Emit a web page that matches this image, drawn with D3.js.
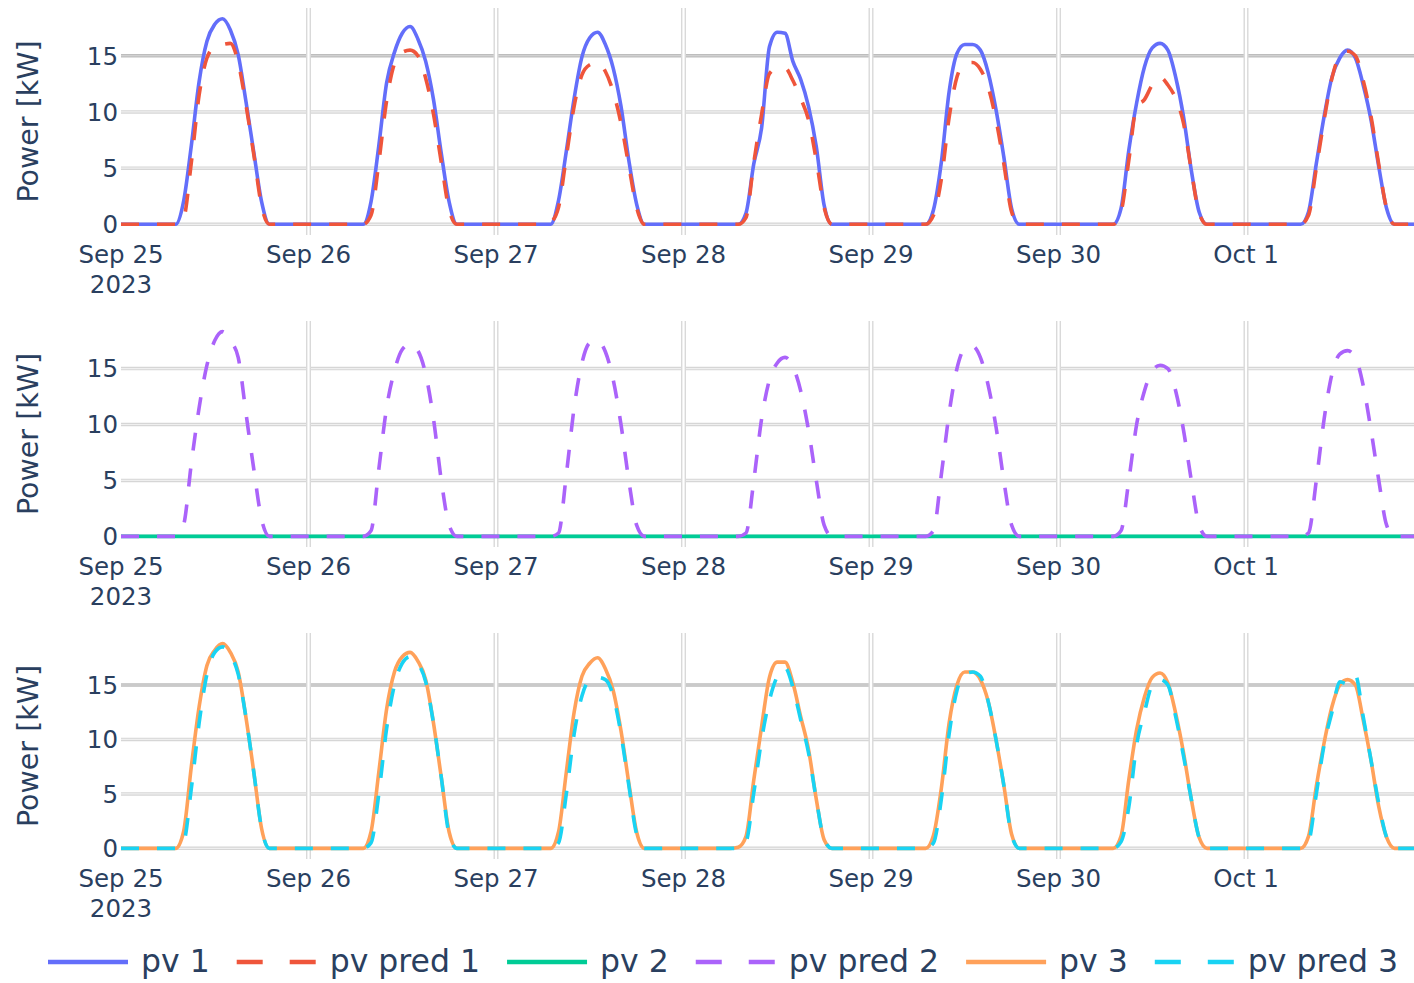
<!DOCTYPE html>
<html>
<head>
<meta charset="utf-8">
<script src="https://cdn.jsdelivr.net/npm/d3@7"></script>
<style>
  body { margin: 0; background: #fff; }
  svg { display: block; }
  text { font-family: "DejaVu Sans", Verdana, sans-serif; fill: #2a3f5f; }
</style>
</head>
<body>
<svg id="chart"></svg>
<script>
// days shown and the daylight hours that carry a value (other hours are 0)
const days = ["2023-09-25", "2023-09-26", "2023-09-27", "2023-09-28", "2023-09-29", "2023-09-30", "2023-10-01"]
const sunHours = [7, 8, 9, 10, 11, 12, 13, 14, 15, 16, 17, 18, 19]
const yTicks = [0, 5, 10, 15]

// kW per day, one value per sun hour
const pv1 = [
  [0, 2.0, 7.0, 12.7, 16.3, 17.8, 18.3, 17.3, 15.1, 10.9, 6.4, 2.0, 0],
  [0, 2.0, 7.0, 12.6, 15.3, 17.0, 17.6, 16.5, 14.5, 11.1, 6.3, 2.0, 0],
  [0, 2.1, 6.5, 11.2, 14.9, 16.6, 17.1, 16.0, 13.9, 10.5, 5.7, 1.8, 0],
  [0, 1.0, 5.4, 8.6, 15.8, 17.1, 17.0, 14.5, 12.9, 10.5, 6.9, 1.7, 0],
  [0, 1.3, 5.5, 11.8, 15.2, 16.0, 16.0, 15.5, 13.5, 10.2, 6.0, 1.4, 0],
  [0, 1.4, 6.6, 10.8, 14.0, 15.7, 16.1, 15.5, 13.1, 9.6, 4.8, 1.1, 0],
  [0, 1.1, 5.4, 9.6, 13.1, 14.8, 15.5, 14.8, 12.4, 9.3, 5.1, 1.4, 0]
]
const pvPred1 = [
  [0, 0.5, 5.5, 11.5, 14.8, 15.8, 16.0, 16.1, 14.4, 10.6, 6.2, 1.6, 0],
  [0, 0.8, 5.5, 11.0, 14.3, 15.3, 15.5, 15.0, 13.0, 9.8, 5.5, 1.3, 0],
  [0.2, 1.5, 6.0, 10.5, 13.3, 14.2, 14.4, 13.6, 11.8, 9.0, 5.2, 1.5, 0],
  [0, 0.6, 5.5, 9.8, 13.4, 13.9, 13.9, 12.8, 11.2, 9.3, 5.7, 1.5, 0],
  [0, 0.8, 4.0, 9.5, 13.1, 14.3, 14.4, 13.8, 12.2, 9.3, 5.4, 1.1, 0],
  [0, 1.1, 5.7, 10.5, 11.1, 12.4, 13.1, 12.4, 11.2, 9.0, 4.8, 1.0, 0],
  [0, 0.8, 5.0, 9.3, 13.0, 15.0, 15.4, 15.0, 12.8, 9.6, 5.3, 1.4, 0]
]
const pv2 = [
  [0, 0, 0, 0, 0, 0, 0, 0, 0, 0, 0, 0, 0],
  [0, 0, 0, 0, 0, 0, 0, 0, 0, 0, 0, 0, 0],
  [0, 0, 0, 0, 0, 0, 0, 0, 0, 0, 0, 0, 0],
  [0, 0, 0, 0, 0, 0, 0, 0, 0, 0, 0, 0, 0],
  [0, 0, 0, 0, 0, 0, 0, 0, 0, 0, 0, 0, 0],
  [0, 0, 0, 0, 0, 0, 0, 0, 0, 0, 0, 0, 0],
  [0, 0, 0, 0, 0, 0, 0, 0, 0, 0, 0, 0, 0]
]
const pvPred2 = [
  [0, 1.0, 6.5, 11.5, 15.3, 17.5, 18.3, 17.5, 16.0, 11.0, 6.0, 1.5, 0],
  [0, 0.5, 6.0, 11.5, 14.8, 16.7, 17.2, 16.6, 14.5, 10.5, 5.0, 1.0, 0],
  [0, 0.3, 5.5, 11.5, 15.5, 17.3, 17.5, 16.5, 14.0, 10.0, 5.0, 1.0, 0],
  [0, 0.3, 5.0, 10.5, 14.0, 15.5, 16.0, 15.2, 13.0, 9.5, 5.0, 1.0, 0],
  [0, 0.5, 5.5, 11.0, 15.0, 16.8, 17.0, 16.0, 13.5, 9.8, 5.0, 1.0, 0],
  [0, 0.5, 5.0, 10.0, 13.0, 14.8, 15.3, 15.0, 13.0, 9.5, 5.0, 1.0, 0],
  [0, 0.3, 5.0, 10.5, 14.5, 16.3, 16.6, 16.0, 13.5, 9.5, 5.0, 1.0, 0]
]
const pv3 = [
  [0, 1.5, 7.5, 13.0, 16.8, 18.2, 18.8, 18.0, 16.2, 12.0, 7.0, 1.8, 0],
  [0, 1.5, 7.0, 12.8, 16.2, 17.6, 18.0, 17.2, 15.5, 11.5, 6.5, 1.5, 0],
  [0, 1.5, 7.0, 12.5, 15.8, 17.0, 17.5, 16.5, 14.5, 10.8, 6.0, 1.5, 0],
  [0.1, 1.1, 6.3, 11.2, 15.7, 17.1, 17.1, 15.2, 12.1, 9.1, 4.5, 0.8, 0],
  [0, 1.2, 5.5, 11.5, 15.0, 16.2, 16.2, 15.5, 13.5, 10.0, 5.8, 1.3, 0],
  [0, 1.1, 6.3, 10.9, 13.9, 15.7, 16.1, 15.2, 12.4, 8.8, 4.5, 1.0, 0],
  [0, 1.1, 5.7, 9.7, 13.0, 15.0, 15.5, 15.0, 11.8, 8.1, 3.8, 1.0, 0]
]
const pvPred3 = [
  [0, 0.5, 5.5, 11.5, 16.0, 18.0, 18.5, 17.8, 16.0, 12.0, 7.0, 1.8, 0],
  [0, 0.5, 5.0, 11.0, 15.0, 17.0, 17.6, 17.0, 15.3, 11.5, 6.5, 1.3, 0],
  [0, 0.5, 5.0, 10.5, 14.0, 15.5, 15.7, 15.5, 14.0, 10.5, 5.8, 1.3, 0],
  [0, 0.6, 5.1, 10.0, 13.6, 15.8, 16.6, 14.8, 11.8, 8.8, 4.5, 0.8, 0],
  [0, 0.5, 4.5, 10.5, 14.5, 16.0, 16.2, 15.8, 13.5, 10.0, 5.8, 1.2, 0],
  [0, 0.6, 3.8, 9.5, 12.5, 15.0, 15.5, 15.0, 12.1, 8.5, 4.5, 1.0, 0],
  [0, 0.6, 5.0, 9.5, 12.5, 15.3, 15.1, 15.9, 12.1, 8.1, 4.1, 1.0, 0]
]

const W = 1414, H = 983

// expand day arrays into an hourly series
function hourly(dayVals) {
  let out = []
  days.forEach((ds, d) => {
    let [yy, mm, dd] = ds.split("-").map(Number)
    for (let h = 0; h < 24; h++) {
      let i = sunHours.indexOf(h)
      out.push({ t: new Date(yy, mm - 1, dd, h), v: i >= 0 ? dayVals[d][i] : 0 })
    }
  })
  return out
}

const series = [
  { name: "pv 1", vals: pv1, color: "#636efa", dash: null, panel: 0 },
  { name: "pv pred 1", vals: pvPred1, color: "#ef553b", dash: "18,18", panel: 0 },
  { name: "pv 2", vals: pv2, color: "#00cc96", dash: null, panel: 1 },
  { name: "pv pred 2", vals: pvPred2, color: "#ab63fa", dash: "18,18", panel: 1 },
  { name: "pv 3", vals: pv3, color: "#ffa15a", dash: null, panel: 2 },
  { name: "pv pred 3", vals: pvPred3, color: "#19d3f3", dash: "18,18", panel: 2 }
]
series.forEach(s => s.data = hourly(s.vals))

const panels = [
  { top: 8, bottom: 235, dark15: true },
  { top: 321, bottom: 547, dark15: false },
  { top: 633, bottom: 859, dark15: true }
]

const t0 = new Date(2023, 8, 25, 0)
const t1 = new Date(2023, 9, 1, 23)
const x = d3.scaleTime().domain([t0, t1]).range([121, 121 + 187.5 * 6 + 187.5 * 23 / 24])
const dayTicks = days.map(ds => { let [a, b, c] = ds.split("-").map(Number); return new Date(a, b - 1, c) })

let svg = d3.select("#chart").attr("width", W).attr("height", H)
svg.append("rect").attr("width", W).attr("height", H).attr("fill", "#fff")

panels.forEach((p, pi) => {
  let mine = series.filter(s => s.panel === pi)
  let maxV = d3.max(mine, s => d3.max(s.data, d => d.v))
  let pad = maxV * 0.052
  let y = d3.scaleLinear().domain([-pad, maxV + pad]).range([p.bottom, p.top])
  let g = svg.append("g")

  svg.append("clipPath").attr("id", "clip" + pi)
    .append("rect").attr("x", 121).attr("y", p.top).attr("width", W).attr("height", p.bottom - p.top)

  // horizontal grid
  yTicks.forEach(v => {
    let dark = p.dark15 && v === 15
    g.append("line").attr("x1", 121).attr("x2", W).attr("y1", y(v)).attr("y2", y(v))
      .attr("stroke", dark ? "#bdbdbd" : "#d6d6d6").attr("stroke-width", 3.5)
    g.append("line").attr("x1", 121).attr("x2", W).attr("y1", y(v)).attr("y2", y(v))
      .attr("stroke", dark ? "#d8d8d8" : "#efefef").attr("stroke-width", 1.2)
  })
  // vertical grid
  dayTicks.slice(1).forEach(t => {
    g.append("line").attr("x1", x(t)).attr("x2", x(t)).attr("y1", p.top).attr("y2", p.bottom)
      .attr("stroke", "#d9d9d9").attr("stroke-width", 5)
    g.append("line").attr("x1", x(t)).attr("x2", x(t)).attr("y1", p.top).attr("y2", p.bottom)
      .attr("stroke", "#fff").attr("stroke-width", 2.2)
  })

  // y tick labels
  yTicks.forEach(v => {
    g.append("text").attr("x", 118).attr("y", y(v)).attr("dy", "0.36em")
      .attr("text-anchor", "end").style("font-size", "24.5px").text(v)
  })
  // x tick labels
  let fmt = d3.timeFormat("%b %-d")
  dayTicks.forEach((t, i) => {
    g.append("text").attr("x", x(t)).attr("y", p.bottom + 28)
      .attr("text-anchor", "middle").style("font-size", "24.5px").text(fmt(t))
    if (i === 0) {
      g.append("text").attr("x", x(t)).attr("y", p.bottom + 58)
        .attr("text-anchor", "middle").style("font-size", "24.5px").text("2023")
    }
  })
  // axis title
  let cy = (p.top + p.bottom) / 2
  g.append("text").attr("transform", `translate(38,${cy}) rotate(-90)`)
    .attr("text-anchor", "middle").style("font-size", "28.5px").text("Power [kW]")

  // lines
  let line = d3.line().x(d => x(d.t)).y(d => y(d.v)).curve(d3.curveMonotoneX)
  let lg = svg.append("g").attr("clip-path", `url(#clip${pi})`)
  mine.forEach(s => {
    lg.append("path").datum(s.data).attr("d", line)
      .attr("fill", "none").attr("stroke", s.color).attr("stroke-width", 3.6)
      .attr("stroke-dasharray", s.dash)
  })
})

// legend
let lx = 48
const ly = 962
let leg = svg.append("g")
series.forEach(s => {
  leg.append("line").attr("x1", lx).attr("x2", lx + 80).attr("y1", ly).attr("y2", ly)
    .attr("stroke", s.color).attr("stroke-width", 4.5)
    .attr("stroke-dasharray", s.dash ? "26,27" : null)
  let t = leg.append("text").attr("x", lx + 93).attr("y", ly + 10)
    .style("font-size", "31.5px").text(s.name)
  lx = lx + 93 + t.node().getComputedTextLength() + 27
})
</script>
</body>
</html>
